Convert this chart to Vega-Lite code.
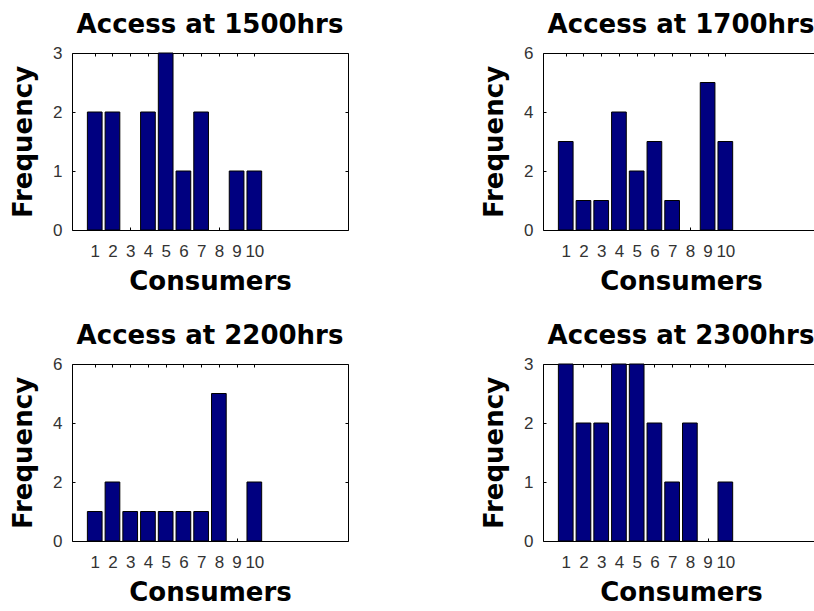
{
  "$schema": "https://vega.github.io/schema/vega-lite/v6.json",
  "background": "white",
  "padding": {"left": 10, "top": 11, "right": 0, "bottom": 0},
  "data": {
    "values": [
      {"time": "1500", "consumer": 1, "freq": 2}, {"time": "1500", "consumer": 2, "freq": 2}, {"time": "1500", "consumer": 3, "freq": 0}, {"time": "1500", "consumer": 4, "freq": 2}, {"time": "1500", "consumer": 5, "freq": 3},
      {"time": "1500", "consumer": 6, "freq": 1}, {"time": "1500", "consumer": 7, "freq": 2}, {"time": "1500", "consumer": 8, "freq": 0}, {"time": "1500", "consumer": 9, "freq": 1}, {"time": "1500", "consumer": 10, "freq": 1},
      {"time": "1700", "consumer": 1, "freq": 3}, {"time": "1700", "consumer": 2, "freq": 1}, {"time": "1700", "consumer": 3, "freq": 1}, {"time": "1700", "consumer": 4, "freq": 4}, {"time": "1700", "consumer": 5, "freq": 2},
      {"time": "1700", "consumer": 6, "freq": 3}, {"time": "1700", "consumer": 7, "freq": 1}, {"time": "1700", "consumer": 8, "freq": 0}, {"time": "1700", "consumer": 9, "freq": 5}, {"time": "1700", "consumer": 10, "freq": 3},
      {"time": "2200", "consumer": 1, "freq": 1}, {"time": "2200", "consumer": 2, "freq": 2}, {"time": "2200", "consumer": 3, "freq": 1}, {"time": "2200", "consumer": 4, "freq": 1}, {"time": "2200", "consumer": 5, "freq": 1},
      {"time": "2200", "consumer": 6, "freq": 1}, {"time": "2200", "consumer": 7, "freq": 1}, {"time": "2200", "consumer": 8, "freq": 5}, {"time": "2200", "consumer": 9, "freq": 0}, {"time": "2200", "consumer": 10, "freq": 2},
      {"time": "2300", "consumer": 1, "freq": 3}, {"time": "2300", "consumer": 2, "freq": 2}, {"time": "2300", "consumer": 3, "freq": 2}, {"time": "2300", "consumer": 4, "freq": 3}, {"time": "2300", "consumer": 5, "freq": 3},
      {"time": "2300", "consumer": 6, "freq": 2}, {"time": "2300", "consumer": 7, "freq": 1}, {"time": "2300", "consumer": 8, "freq": 2}, {"time": "2300", "consumer": 9, "freq": 0}, {"time": "2300", "consumer": 10, "freq": 1}
    ]
  },
  "columns": 2,
  "bounds": "flush",
  "spacing": {"row": 134, "column": 195},
  "concat": [
    {
      "width": 276, "height": 177,
      "title": {"text": "Access at 1500hrs"},
      "transform": [{"filter": "datum.time == '1500' && datum.freq > 0"}],
      "layer": [
        {
          "mark": {"type": "bar", "size": 14.7, "fill": "#000080", "stroke": "#000000", "strokeWidth": 1},
          "encoding": {
            "x": {"field": "consumer", "type": "quantitative", "scale": {"domain": [0, 15], "nice": false, "zero": false}, "axis": {"values": [1,2,3,4,5,6,7,8,9,10], "title": "Consumers"}},
            "y": {"field": "freq", "type": "quantitative", "scale": {"domain": [0, 3], "nice": false}, "axis": {"values": [0,1,2,3], "title": "Frequency"}}
          }
        },
        {
          "mark": {"type": "bar", "size": 14.7, "opacity": 0},
          "encoding": {
            "x": {"field": "consumer", "type": "quantitative", "scale": {"domain": [0, 15], "nice": false, "zero": false}, "axis": {"orient": "top", "values": [1,2,3,4,5,6,7,8,9,10], "labels": false, "title": null}},
            "y": {"field": "freq", "type": "quantitative", "scale": {"domain": [0, 3], "nice": false}, "axis": {"orient": "right", "values": [0,1,2,3], "labels": false, "title": null}}
          }
        }
      ],
      "resolve": {"axis": {"x": "independent", "y": "independent"}}
    },
    {
      "width": 276, "height": 177,
      "title": {"text": "Access at 1700hrs"},
      "transform": [{"filter": "datum.time == '1700' && datum.freq > 0"}],
      "layer": [
        {
          "mark": {"type": "bar", "size": 14.7, "fill": "#000080", "stroke": "#000000", "strokeWidth": 1},
          "encoding": {
            "x": {"field": "consumer", "type": "quantitative", "scale": {"domain": [0, 15], "nice": false, "zero": false}, "axis": {"values": [1,2,3,4,5,6,7,8,9,10], "title": "Consumers"}},
            "y": {"field": "freq", "type": "quantitative", "scale": {"domain": [0, 6], "nice": false}, "axis": {"values": [0,2,4,6], "title": "Frequency"}}
          }
        },
        {
          "mark": {"type": "bar", "size": 14.7, "opacity": 0},
          "encoding": {
            "x": {"field": "consumer", "type": "quantitative", "scale": {"domain": [0, 15], "nice": false, "zero": false}, "axis": {"orient": "top", "values": [1,2,3,4,5,6,7,8,9,10], "labels": false, "title": null}},
            "y": {"field": "freq", "type": "quantitative", "scale": {"domain": [0, 6], "nice": false}, "axis": {"orient": "right", "values": [0,2,4,6], "labels": false, "title": null}}
          }
        }
      ],
      "resolve": {"axis": {"x": "independent", "y": "independent"}}
    },
    {
      "width": 276, "height": 177,
      "title": {"text": "Access at 2200hrs"},
      "transform": [{"filter": "datum.time == '2200' && datum.freq > 0"}],
      "layer": [
        {
          "mark": {"type": "bar", "size": 14.7, "fill": "#000080", "stroke": "#000000", "strokeWidth": 1},
          "encoding": {
            "x": {"field": "consumer", "type": "quantitative", "scale": {"domain": [0, 15], "nice": false, "zero": false}, "axis": {"values": [1,2,3,4,5,6,7,8,9,10], "title": "Consumers"}},
            "y": {"field": "freq", "type": "quantitative", "scale": {"domain": [0, 6], "nice": false}, "axis": {"values": [0,2,4,6], "title": "Frequency"}}
          }
        },
        {
          "mark": {"type": "bar", "size": 14.7, "opacity": 0},
          "encoding": {
            "x": {"field": "consumer", "type": "quantitative", "scale": {"domain": [0, 15], "nice": false, "zero": false}, "axis": {"orient": "top", "values": [1,2,3,4,5,6,7,8,9,10], "labels": false, "title": null}},
            "y": {"field": "freq", "type": "quantitative", "scale": {"domain": [0, 6], "nice": false}, "axis": {"orient": "right", "values": [0,2,4,6], "labels": false, "title": null}}
          }
        }
      ],
      "resolve": {"axis": {"x": "independent", "y": "independent"}}
    },
    {
      "width": 276, "height": 177,
      "title": {"text": "Access at 2300hrs"},
      "transform": [{"filter": "datum.time == '2300' && datum.freq > 0"}],
      "layer": [
        {
          "mark": {"type": "bar", "size": 14.7, "fill": "#000080", "stroke": "#000000", "strokeWidth": 1},
          "encoding": {
            "x": {"field": "consumer", "type": "quantitative", "scale": {"domain": [0, 15], "nice": false, "zero": false}, "axis": {"values": [1,2,3,4,5,6,7,8,9,10], "title": "Consumers"}},
            "y": {"field": "freq", "type": "quantitative", "scale": {"domain": [0, 3], "nice": false}, "axis": {"values": [0,1,2,3], "title": "Frequency"}}
          }
        },
        {
          "mark": {"type": "bar", "size": 14.7, "opacity": 0},
          "encoding": {
            "x": {"field": "consumer", "type": "quantitative", "scale": {"domain": [0, 15], "nice": false, "zero": false}, "axis": {"orient": "top", "values": [1,2,3,4,5,6,7,8,9,10], "labels": false, "title": null}},
            "y": {"field": "freq", "type": "quantitative", "scale": {"domain": [0, 3], "nice": false}, "axis": {"orient": "right", "values": [0,1,2,3], "labels": false, "title": null}}
          }
        }
      ],
      "resolve": {"axis": {"x": "independent", "y": "independent"}}
    }
  ],
  "config": {
    "view": {"stroke": "#000000", "strokeWidth": 1},
    "title": {"font": "DejaVu Sans", "fontWeight": "bold", "fontSize": 26, "color": "#000000", "anchor": "middle", "baseline": "alphabetic", "offset": 6},
    "axis": {
      "grid": false,
      "domain": false,
      "tickSize": -3,
      "tickColor": "#000000",
      "labelFont": "Liberation Sans",
      "labelFontSize": 17,
      "labelColor": "#333333",
      "titleFont": "DejaVu Sans",
      "titleFontWeight": "bold",
      "titleFontSize": 26,
      "titleColor": "#000000",
      "labelFlush": false,
      "labelOverlap": false
    },
    "axisX": {"labelPadding": 16, "titlePadding": 9},
    "axisY": {"labelPadding": 13, "titlePadding": 16}
  }
}
